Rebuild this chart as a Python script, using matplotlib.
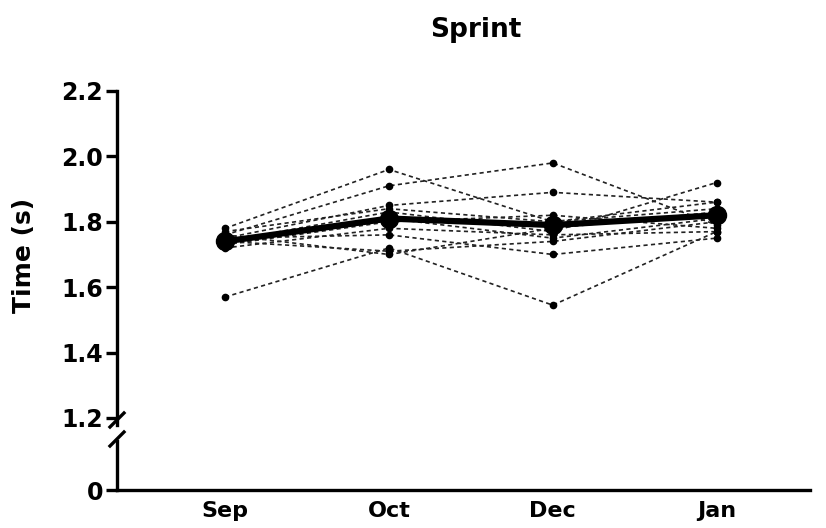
import matplotlib
matplotlib.use("Agg")
import matplotlib.pyplot as plt

plt.rcParams["font.family"] = ["DejaVu Sans"]

# months on the x axis
months = ["Sep", "Oct", "Dec", "Jan"]

# individual sprint times (s), one row per athlete
athletes = [
    [1.57, 1.72, 1.545, 1.77],
    [1.78, 1.96, 1.80, 1.84],
    [1.76, 1.91, 1.98, 1.79],
    [1.75, 1.85, 1.89, 1.86],
    [1.74, 1.83, 1.77, 1.92],
    [1.73, 1.81, 1.75, 1.81],
    [1.77, 1.84, 1.80, 1.86],
    [1.72, 1.78, 1.76, 1.77],
    [1.75, 1.76, 1.70, 1.75],
    [1.74, 1.71, 1.74, 1.80],
    [1.76, 1.70, 1.78, 1.83],
    [1.73, 1.80, 1.82, 1.78],
]

# group mean (thick line)
mean_time = [1.74, 1.81, 1.79, 1.82]

upper_ticks = [1.2, 1.4, 1.6, 1.8, 2.0, 2.2]
upper_ticklabels = ["1.2", "1.4", "1.6", "1.8", "2.0", "2.2"]

W, H = 826, 528
fig = plt.figure(figsize=(W / 100, H / 100), dpi=100)

left = 117 / W
right = 810 / W
ax_top = fig.add_axes([left, 1 - 424.5 / H, right - left, (424.5 - 91) / H])
ax_bot = fig.add_axes([left, 1 - 490 / H, right - left, (490 - 441) / H])

x = list(range(len(months)))
xlim = (-0.66, 3.57)
lw_spine = 2.4

for row in athletes:
    ax_top.plot(x, row, ls=(0, (2.5, 2)), color="#222222", lw=1.2,
                marker="o", ms=4.5, mfc="black", mec="black", zorder=2)
ax_top.plot(x, mean_time, "-", color="black", lw=4.5, marker="o", ms=13,
            zorder=3)

ax_top.set_xlim(*xlim)
ax_top.set_ylim(1.18, 2.2)
ax_top.set_yticks(upper_ticks)
ax_top.set_yticklabels(upper_ticklabels)
ax_top.set_xticks([])
for s in ["top", "right", "bottom"]:
    ax_top.spines[s].set_visible(False)
ax_top.spines["left"].set_linewidth(lw_spine)
ax_top.tick_params(axis="y", length=8, width=lw_spine, labelsize=17, pad=2)
for lab in ax_top.get_yticklabels():
    lab.set_fontweight("bold")
ax_top.patch.set_alpha(0)

ax_bot.set_xlim(*xlim)
ax_bot.set_ylim(0, 1)
ax_bot.set_yticks([0])
ax_bot.set_yticklabels(["0"])
ax_bot.set_xticks(x)
ax_bot.set_xticklabels(months)
for s in ["top", "right"]:
    ax_bot.spines[s].set_visible(False)
ax_bot.spines["left"].set_linewidth(lw_spine)
ax_bot.spines["bottom"].set_linewidth(lw_spine)
ax_bot.tick_params(axis="y", length=8, width=lw_spine, labelsize=17, pad=2)
ax_bot.tick_params(axis="x", length=0, labelsize=16, pad=8)
for lab in ax_bot.get_yticklabels() + ax_bot.get_xticklabels():
    lab.set_fontweight("bold")
ax_bot.patch.set_alpha(0)

# axis break slashes
dx, dy = 7 / W, 7 / H
for yb in [1 - 420 / H, 1 - 439 / H]:
    fig.add_artist(plt.Line2D([left - dx, left + dx], [yb - dy, yb + dy],
                              color="black", lw=lw_spine,
                              transform=fig.transFigure))

fig.text(476 / W, 1 - 30 / H, "Sprint", ha="center", va="center",
         fontsize=19, fontweight="bold")
fig.text(24 / W, 1 - 255 / H, "Time (s)", ha="center", va="center",
         rotation=90, fontsize=18, fontweight="bold")

fig.savefig("out.png", dpi=100)
